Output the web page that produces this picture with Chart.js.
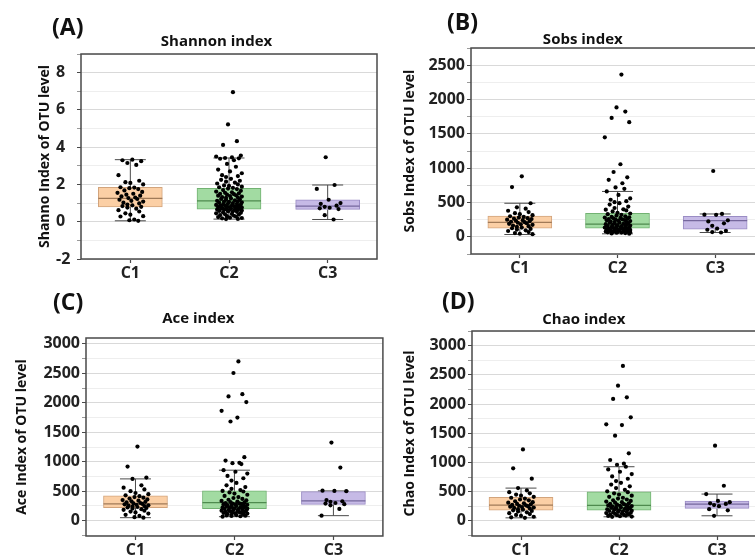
<!DOCTYPE html>
<html><head><meta charset="utf-8">
<script src="https://cdn.jsdelivr.net/npm/chart.js@4/dist/chart.umd.min.js"></script>
<style>
html,body{margin:0;padding:0;background:#fff;overflow:hidden;width:755px;height:559px;position:relative;}
canvas{position:absolute;}
</style></head><body>
<canvas id="cA" width="380" height="290" style="left:0;top:0"></canvas>
<canvas id="cB" width="400" height="290" style="left:380px;top:0"></canvas>
<canvas id="cC" width="385" height="269" style="left:0;top:290px"></canvas>
<canvas id="cD" width="400" height="269" style="left:380px;top:290px"></canvas>
<script>
const categories = ['C1','C2','C3'];
// horizontal jitter offsets (category units) used to spread the dots
const JITTER = [0.02,-0.08,0.11,-0.03,0.06,-0.12,0.09,-0.05,0.0,0.13,-0.1,0.04,-0.01,0.08,-0.06,0.12,-0.13,0.03,-0.04,0.1,-0.09,0.05,-0.02,0.07,-0.11,0.01,0.13,-0.07,0.09,-0.03];

// (A) Shannon index
const shannonC1 = [3.33,3.3,3.25,3.15,3.05,2.5,2.2,2.12,2.08,2.0,1.85,1.83,1.8,1.75,1.68,1.6,1.55,1.5,1.45,1.4,1.36,1.3,1.27,1.22,1.18,1.12,1.08,1.02,0.98,0.92,0.88,0.84,0.8,0.76,0.7,0.62,0.55,0.45,0.38,0.3,0.28,0.12,0.08,0.05];
const shannonC2 = [6.95,5.22,4.32,4.12,3.55,3.5,3.45,3.42,3.4,3.38,3.3,3.1,2.95,2.8,2.7,2.6,2.5,2.45,2.4,2.3,2.25,2.2,2.15,2.1,2.05,2.0,1.95,1.92,1.88,1.85,1.82,1.78,1.75,1.7,1.66,1.62,1.58,1.55,1.52,1.5,1.48,1.45,1.42,1.4,1.38,1.35,1.32,1.3,1.28,1.25,1.22,1.2,1.18,1.15,1.12,1.1,1.08,1.06,1.04,1.02,1.0,0.98,0.96,0.94,0.92,0.9,0.89,0.88,0.86,0.85,0.84,0.82,0.8,0.79,0.78,0.76,0.75,0.74,0.72,0.71,0.7,0.69,0.68,0.67,0.66,0.65,0.64,0.62,0.6,0.58,0.56,0.55,0.53,0.5,0.48,0.45,0.42,0.4,0.38,0.35,0.32,0.3,0.28,0.25,0.22,0.2,0.18,0.15,0.14];
const shannonC3 = [3.46,1.97,1.76,1.18,1.0,0.96,0.86,0.8,0.75,0.72,0.68,0.35,0.12];
const shannonLo = [0.05,0.14,0.12];
const shannonQ1 = [0.79,0.68,0.66];
const shannonMed = [1.25,1.12,0.84];
const shannonQ3 = [1.85,1.79,1.18];
const shannonHi = [3.33,3.42,1.97];
const shannonTicks = [-2,0,2,4,6,8];

// (B) Sobs index
const sobsC1 = [881,724,489,430,410,380,360,345,330,315,300,290,280,272,265,258,250,242,235,228,220,213,205,198,190,182,175,165,155,145,135,125,115,105,95,85,70,55,45,38];
const sobsC2 = [2363,1884,1824,1732,1670,1449,1057,944,866,830,780,720,699,661,610,560,540,520,505,490,470,440,420,400,395,385,370,350,340,330,320,310,300,290,285,280,275,270,265,260,255,250,245,240,235,230,225,220,215,210,205,200,195,190,185,180,175,170,165,160,155,150,148,145,140,135,130,128,125,120,118,115,112,110,105,100,98,95,92,90,88,85,82,80,78,75,72,70,68,65,62,60,55,50,45];
const sobsC3 = [959,333,323,320,240,225,196,161,120,103,88,70,63];
const sobsLo = [34,44,63];
const sobsQ1 = [127,127,113];
const sobsMed = [210,186,235];
const sobsQ3 = [303,342,298];
const sobsHi = [489,661,333];
const sobsTicks = [0,500,1000,1500,2000,2500];

// (C) Ace index
const aceC1 = [1258,918,731,709,600,560,530,500,470,450,430,415,400,390,375,360,350,340,330,320,310,300,292,285,278,270,262,255,248,240,232,225,215,205,195,185,170,155,140,120,100,80,60,51];
const aceC2 = [2703,2506,2147,2108,2012,1865,1749,1683,1078,1020,981,975,960,857,830,800,760,720,680,640,600,570,540,520,505,495,480,460,440,420,400,385,370,355,345,335,325,315,306,300,295,290,285,280,275,270,265,260,255,250,245,240,235,230,225,220,215,210,205,200,195,190,185,180,175,170,165,160,155,150,145,140,135,130,125,120,115,110,100,95,90,85,80,75,68];
const aceC3 = [1326,901,510,505,500,350,330,320,300,290,280,260,200,85];
const aceLo = [51,68,85];
const aceQ1 = [221,204,278];
const aceMed = [284,306,335];
const aceQ3 = [420,505,494];
const aceHi = [709,857,505];
const aceTicks = [0,500,1000,1500,2000,2500,3000];

// (D) Chao index
const chaoC1 = [1223,898,722,560,520,490,470,450,430,410,395,380,365,350,335,320,310,300,290,280,272,265,258,250,242,235,228,220,210,200,190,180,170,160,145,130,115,100,85,70,60,51];
const chaoC2 = [2652,2314,2115,2087,1772,1652,1640,1457,1155,1041,978,960,926,880,840,800,760,720,680,650,620,590,560,530,505,490,470,450,430,410,395,380,365,350,340,330,320,310,300,292,285,278,270,264,258,252,246,240,234,228,222,216,210,204,198,192,186,180,174,168,162,156,150,144,138,132,126,120,114,108,102,96,90,84,78,72,69];
const chaoC3 = [1286,600,458,340,320,300,290,270,250,200,180,86];
const chaoLo = [51,69,86];
const chaoQ1 = [183,183,212];
const chaoMed = [269,266,286];
const chaoQ3 = [401,497,338];
const chaoHi = [560,926,458];
const chaoTicks = [0,500,1000,1500,2000,2500,3000];

const FILLS = ['#fbcfa5','#a2dba2','#c6bae6'];
const EDGES = ['#d2a47c','#72b272','#9a8cc4'];
const MEDS = ['#a07a58','#4e8a4e','#75679c'];
const FONT = '"Open Sans", "DejaVu Sans", sans-serif';

function makePanel(id, p) {
  const pts = [];
  p.series.forEach((vals, i) => {
    vals.forEach((v, k) => pts.push({x: i + 1 + JITTER[(k + i * 11) % JITTER.length], y: v}));
  });
  const majors = new Set(p.ticks);
  const step = p.ticks[1] - p.ticks[0];
  const tickVals = [];
  for (let t = p.ticks[0] - step / 2; t <= p.yMax + 1e-9; t += step / 2) {
    if (t >= p.yMin - 1e-9) tickVals.push(+t.toFixed(6));
  }
  const parts = {
    id: 'boxparts',
    beforeDatasetDraw(chart, args) {
      if (args.index !== 1) return;
      const xs = chart.scales.x, ys = chart.scales.y, ctx = chart.ctx;
      ctx.save();
      ctx.strokeStyle = '#4a4a4a';
      ctx.lineWidth = 1;
      for (let i = 0; i < categories.length; i++) {
        const x = xs.getPixelForValue(i + 1);
        const yLo = ys.getPixelForValue(p.lo[i]), yHi = ys.getPixelForValue(p.hi[i]);
        const y1 = ys.getPixelForValue(p.q1[i]), y3 = ys.getPixelForValue(p.q3[i]);
        ctx.beginPath();
        ctx.moveTo(x, yLo); ctx.lineTo(x, y1);
        ctx.moveTo(x, y3); ctx.lineTo(x, yHi);
        ctx.moveTo(x - 15.5, yLo); ctx.lineTo(x + 15.5, yLo);
        ctx.moveTo(x - 15.5, yHi); ctx.lineTo(x + 15.5, yHi);
        ctx.stroke();
      }
      ctx.restore();
    },
    afterDatasetDraw(chart, args) {
      if (args.index !== 1) return;
      const xs = chart.scales.x, ys = chart.scales.y, ctx = chart.ctx;
      ctx.save();
      ctx.lineWidth = 1.2;
      for (let i = 0; i < categories.length; i++) {
        const x = xs.getPixelForValue(i + 1);
        const ym = ys.getPixelForValue(p.med[i]);
        ctx.strokeStyle = MEDS[i];
        ctx.beginPath(); ctx.moveTo(x - 32, ym); ctx.lineTo(x + 32, ym); ctx.stroke();
      }
      ctx.restore();
    },
    afterDraw(chart) {
      const a = chart.chartArea, ctx = chart.ctx;
      ctx.save();
      ctx.strokeStyle = '#4a4a4a';
      ctx.lineWidth = 1.5;
      ctx.strokeRect(a.left, a.top, a.right - a.left, a.bottom - a.top);
      ctx.fillStyle = '#111';
      ctx.font = 'bold 23px ' + FONT;
      ctx.textBaseline = 'alphabetic';
      ctx.textAlign = 'left';
      ctx.fillText(p.label, p.labelPos[0], p.labelPos[1]);
      ctx.restore();
    }
  };
  return new Chart(document.getElementById(id), {
    type: 'scatter',
    data: {
      datasets: [
        {type: 'scatter', data: pts, pointRadius: 2.1, pointHoverRadius: 2.1, backgroundColor: '#000', borderWidth: 0},
        {type: 'bar', data: categories.map((c, i) => ({x: i + 1, y: [p.q1[i], p.q3[i]]})),
         backgroundColor: FILLS, borderColor: EDGES, borderWidth: 1, borderSkipped: false, barThickness: 64}
      ]
    },
    options: {
      responsive: false,
      animation: false,
      events: [],
      layout: {padding: p.pad},
      plugins: {
        legend: {display: false},
        tooltip: {enabled: false},
        title: {display: true, text: p.title, color: '#111',
                font: {family: FONT, size: 15, weight: 'bold', lineHeight: 1},
                padding: {top: 0, bottom: p.titlePb}}
      },
      scales: {
        x: {
          type: 'linear', min: 0.5, max: 3.5, offset: false,
          afterBuildTicks: s => { s.ticks = categories.map((c, i) => ({value: i + 1})); },
          afterFit: s => { s.height = p.xH; },
          border: {display: false},
          grid: {offset: false, drawOnChartArea: false, drawTicks: true, tickLength: 4, tickColor: '#4a4a4a', tickWidth: 1.2},
          ticks: {padding: 1, color: '#222', font: {family: FONT, size: 16, weight: 'bold'},
                  callback: v => categories[Math.round(v) - 1] || ''}
        },
        y: {
          type: 'linear', min: p.yMin, max: p.yMax, beginAtZero: false,
          afterBuildTicks: s => { s.ticks = tickVals.map(v => ({value: v})); },
          afterFit: s => { s.width = p.yW; },
          border: {display: false},
          grid: {
            color: c => (c.tick && majors.has(c.tick.value)) ? '#d9d9d9' : '#eeeeee',
            lineWidth: 1, drawTicks: true, tickLength: 4,
            tickColor: c => (c.tick && majors.has(c.tick.value)) ? '#4a4a4a' : '#9a9a9a'
          },
          ticks: {autoSkip: false, padding: 2, crossAlign: p.crossAlign, color: '#222',
                  font: {family: FONT, size: 16, weight: 'bold'},
                  callback: v => majors.has(v) ? String(v) : ''},
          title: {display: true, text: p.yTitle, color: '#111', padding: {top: p.yTitleShift, bottom: 0},
                  font: {family: FONT, size: 14, weight: 'bold', lineHeight: 1.2}}
        }
      }
    },
    plugins: [parts]
  });
}

makePanel('cA', {title: 'Shannon index', label: '(A)', labelPos: [52, 35], yTitle: 'Shanno Index of OTU level',
  series: [shannonC1, shannonC2, shannonC3], lo: shannonLo, q1: shannonQ1, med: shannonMed, q3: shannonQ3, hi: shannonHi,
  ticks: shannonTicks, yMin: -2, yMax: 9, crossAlign: 'far', yTitleShift: -19.4,
  pad: {left: 56, top: 34.2, right: 3, bottom: 0}, titlePb: 4.8, yW: 25, xH: 31});
makePanel('cB', {title: 'Sobs index', label: '(B)', labelPos: [67, 30], yTitle: 'Sobs Index of OTU level',
  series: [sobsC1, sobsC2, sobsC3], lo: sobsLo, q1: sobsQ1, med: sobsMed, q3: sobsQ3, hi: sobsHi,
  ticks: sobsTicks, yMin: -250, yMax: 2750, crossAlign: 'near', yTitleShift: 0,
  pad: {left: 21.6, top: 32.5, right: 16, bottom: 0}, titlePb: 0.5, yW: 69.4, xH: 36});
makePanel('cC', {title: 'Ace index', label: '(C)', labelPos: [53, 20], yTitle: 'Ace Index of OTU level',
  series: [aceC1, aceC2, aceC3], lo: aceLo, q1: aceQ1, med: aceMed, q3: aceQ3, hi: aceHi,
  ticks: aceTicks, yMin: -260, yMax: 3100, crossAlign: 'near', yTitleShift: 0,
  pad: {left: 13.6, top: 21, right: 2, bottom: 0}, titlePb: 12, yW: 72.4, xH: 23});
makePanel('cD', {title: 'Chao index', label: '(D)', labelPos: [62, 19], yTitle: 'Chao Index of OTU level',
  series: [chaoC1, chaoC2, chaoC3], lo: chaoLo, q1: chaoQ1, med: chaoMed, q3: chaoQ3, hi: chaoHi,
  ticks: chaoTicks, yMin: -260, yMax: 3250, crossAlign: 'near', yTitleShift: 0,
  pad: {left: 21.6, top: 22.5, right: 14, bottom: 0}, titlePb: 3.5, yW: 70.4, xH: 23});
</script>
</body></html>
